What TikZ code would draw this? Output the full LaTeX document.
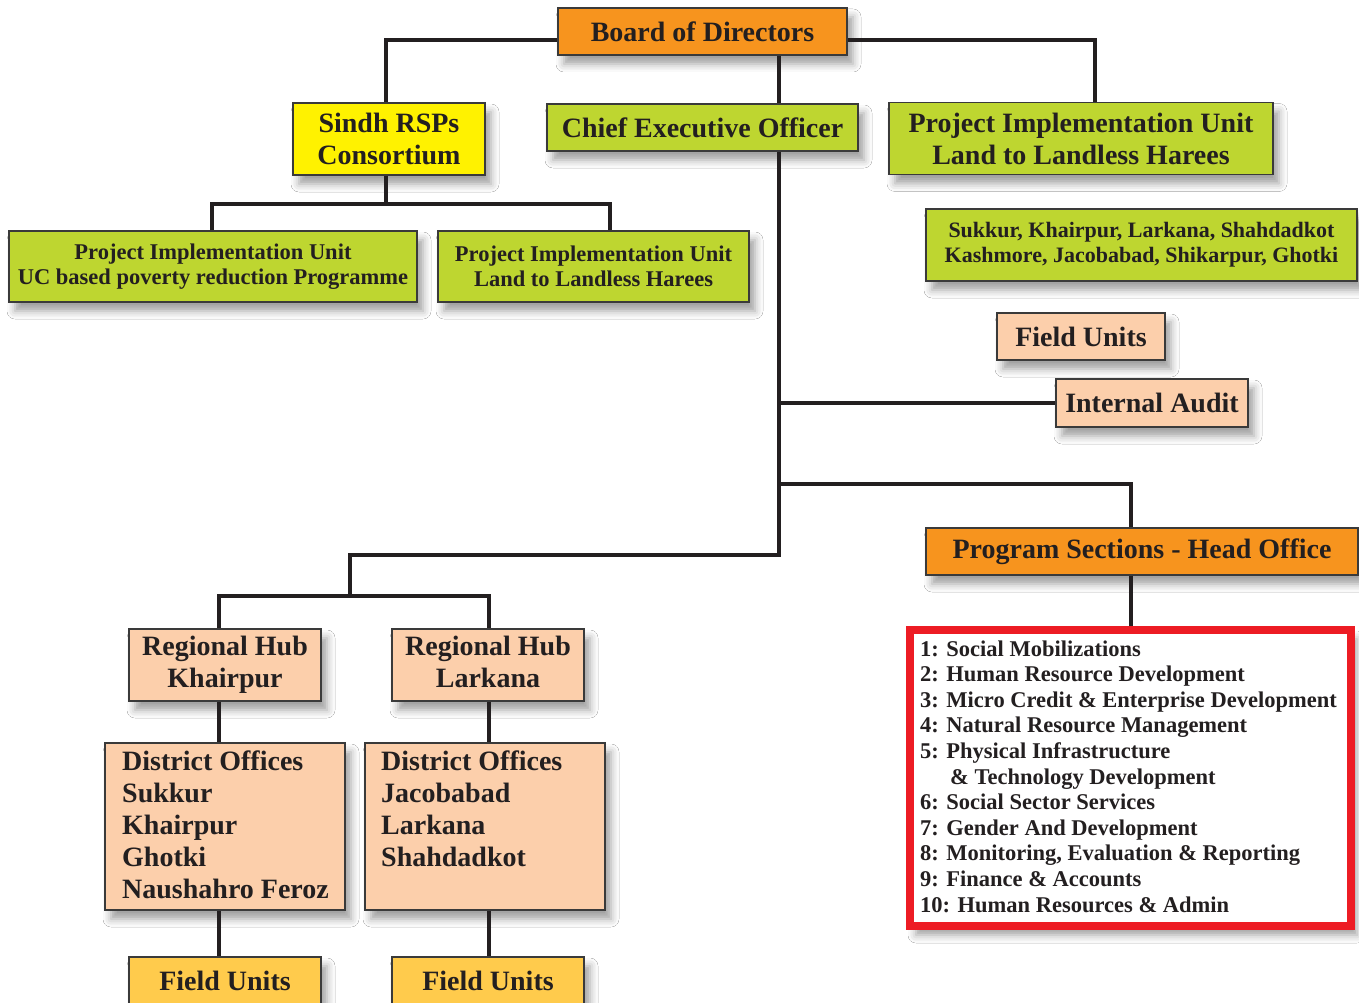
\documentclass[tikz,border=0pt]{standalone}
\usepackage{fontspec}
\setmainfont{Liberation Serif}
\usetikzlibrary{shadows.blur}
\definecolor{cline}{HTML}{231F20}
\definecolor{cborder}{HTML}{3A3A3A}
\definecolor{corange}{HTML}{F7941E}
\definecolor{cgreen}{HTML}{BED630}
\definecolor{cyellow}{HTML}{FFF200}
\definecolor{cpeach}{HTML}{FCCFAB}
\definecolor{cgold}{HTML}{FFCB4C}
\definecolor{cred}{HTML}{ED1C24}
\begin{document}
\begin{tikzpicture}[x=1pt,y=-1pt,
  font=\bfseries\fontsize{28}{32}\selectfont,
  boxshadow/.style={blur shadow={shadow xshift=6pt, shadow yshift=-9pt, shadow blur radius=8pt, shadow opacity=38}},
  obox/.style={draw=cborder, line width=1.2pt, inner sep=0pt, align=center, text=cline, boxshadow},
  smalltext/.style={font=\bfseries\fontsize{22.5}{25}\selectfont},
  listline/.style={anchor=base west, inner sep=0pt, text=cline},
  conn/.style={draw=cline, line width=4pt}]
\clip (0,0) rectangle (1359,1003);
\fill[white] (0,0) rectangle (1359,1003);

% top level
\node[obox, fill=corange, minimum width=289pt, minimum height=47pt] (bod) at (702.5,31.5) {Board of Directors};
\node[obox, fill=cgreen, minimum width=311pt, minimum height=47pt] (ceo) at (702.5,127.5) {Chief Executive Officer};
\node[obox, fill=cyellow, minimum width=192pt, minimum height=72pt] (sindh) at (389,139) {Sindh RSPs\\Consortium};
\node[obox, fill=cgreen, minimum width=384pt, minimum height=72pt] (piu) at (1081,138.5) {Project Implementation Unit\\Land to Landless Harees};

% Sindh children
\node[obox, smalltext, fill=cgreen, minimum width=408pt, minimum height=71pt] (piuUC) at (213,266.5) {Project Implementation Unit\\UC based poverty reduction Programme};
\node[obox, smalltext, fill=cgreen, minimum width=311pt, minimum height=71pt] (piuLL) at (593.5,266.5) {Project Implementation Unit\\Land to Landless Harees};

% right column
\node[obox, font=\bfseries\fontsize{22}{25}\selectfont, fill=cgreen, minimum width=431pt, minimum height=72pt] (dist) at (1141.5,245) {Sukkur, Khairpur, Larkana, Shahdadkot\\Kashmore, Jacobabad, Shikarpur, Ghotki};
\node[obox, fill=cpeach, minimum width=168pt, minimum height=47pt] (fu) at (1081,336.5) {Field Units};
\node[obox, fill=cpeach, minimum width=192pt, minimum height=48pt] (audit) at (1152,403) {Internal Audit};
\node[obox, fill=corange, minimum width=432pt, minimum height=47pt] (ps) at (1142,551.5) {Program Sections - Head Office};

% sections list
\node[draw=cred, line width=8pt, fill=white, inner sep=0pt, minimum width=441pt, minimum height=296pt, boxshadow] (sect) at (1130.5,778) {};
\begin{scope}[smalltext]
\node[listline] (r1) at (920,656) {1: Social Mobilizations};
\node[listline] (r2) at (920,681.6) {2: Human Resource Development};
\node[listline] (r3) at (920,707.2) {3: Micro Credit \& Enterprise Development};
\node[listline] (r4) at (920,732.8) {4: Natural Resource Management};
\node[listline] (r5) at (920,758.4) {5: Physical Infrastructure};
\node[listline] (r6) at (950,784) {\& Technology Development};
\node[listline] (r7) at (920,809.6) {6: Social Sector Services};
\node[listline] (r8) at (920,835.2) {7: Gender And Development};
\node[listline] (r9) at (920,860.8) {8: Monitoring, Evaluation \& Reporting};
\node[listline] (r10) at (920,886.4) {9: Finance \& Accounts};
\node[listline] (r11) at (920,912) {10: Human Resources \& Admin};
\end{scope}

% regional hubs
\node[obox, fill=cpeach, minimum width=192pt, minimum height=72pt] (hubK) at (225,665) {Regional Hub\\Khairpur};
\node[obox, fill=cpeach, minimum width=192pt, minimum height=72pt] (hubL) at (488,665) {Regional Hub\\Larkana\vphantom{p}};
\node[obox, fill=cpeach, minimum width=240pt, minimum height=167pt] (doK) at (225,826.5) {};
\node[obox, fill=cpeach, minimum width=240pt, minimum height=167pt] (doL) at (485,826.5) {};
\node[listline] (dk1) at (122,770) {District Offices};
\node[listline] (dk2) at (122,802) {Sukkur};
\node[listline] (dk3) at (122,834) {Khairpur};
\node[listline] (dk4) at (122,866) {Ghotki};
\node[listline] (dk5) at (122,898) {Naushahro Feroz};
\node[listline] (dl1) at (381,770) {District Offices};
\node[listline] (dl2) at (381,802) {Jacobabad};
\node[listline] (dl3) at (381,834) {Larkana};
\node[listline] (dl4) at (381,866) {Shahdadkot};
\node[obox, fill=cgold, minimum width=192pt, minimum height=47pt] (fuK) at (225,980.5) {Field Units};
\node[obox, fill=cgold, minimum width=192pt, minimum height=47pt] (fuL) at (488,980.5) {Field Units};

% helper coordinates
\coordinate (h40) at (0,40);
\coordinate (sx) at (779,0);
\coordinate (xl) at (386,0);
\coordinate (xr) at (1095,0);
\coordinate (h204) at (0,204);
\coordinate (xuc) at (212,0);
\coordinate (xll) at (610,0);
\coordinate (b484) at (779,484);
\coordinate (xps) at (1131,0);
\coordinate (c1) at (779,555);
\coordinate (c2) at (350,596);
\coordinate (kx) at (219,0);
\coordinate (lx) at (489,0);

% connectors
\draw[conn] (bod.west |- h40) -| (sindh.north -| xl);
\draw[conn] (bod.east |- h40) -| (piu.north -| xr);
\draw[conn] (bod.south -| sx) -- (ceo.north -| sx);
\draw[conn] (sindh.south -| xl) -- (xl |- h204);
\draw[conn] (piuUC.north -| xuc) -- (xuc |- h204) -- (xll |- h204) -- (piuLL.north -| xll);
\draw[conn] (ceo.south -| sx) -- (c1) -| (c2);
\draw[conn] (sx |- audit.west) -- (audit.west);
\draw[conn] (b484) -| (ps.north -| xps);
\draw[conn] (ps.south -| xps) -- (sect.north -| xps);
\draw[conn] (hubK.north -| kx) -- (kx |- c2) -- (lx |- c2) -- (hubL.north -| lx);
\draw[conn] (hubK.south -| kx) -- (doK.north -| kx);
\draw[conn] (hubL.south -| lx) -- (doL.north -| lx);
\draw[conn] (doK.south -| kx) -- (fuK.north -| kx);
\draw[conn] (doL.south -| lx) -- (fuL.north -| lx);
\end{tikzpicture}
\end{document}
